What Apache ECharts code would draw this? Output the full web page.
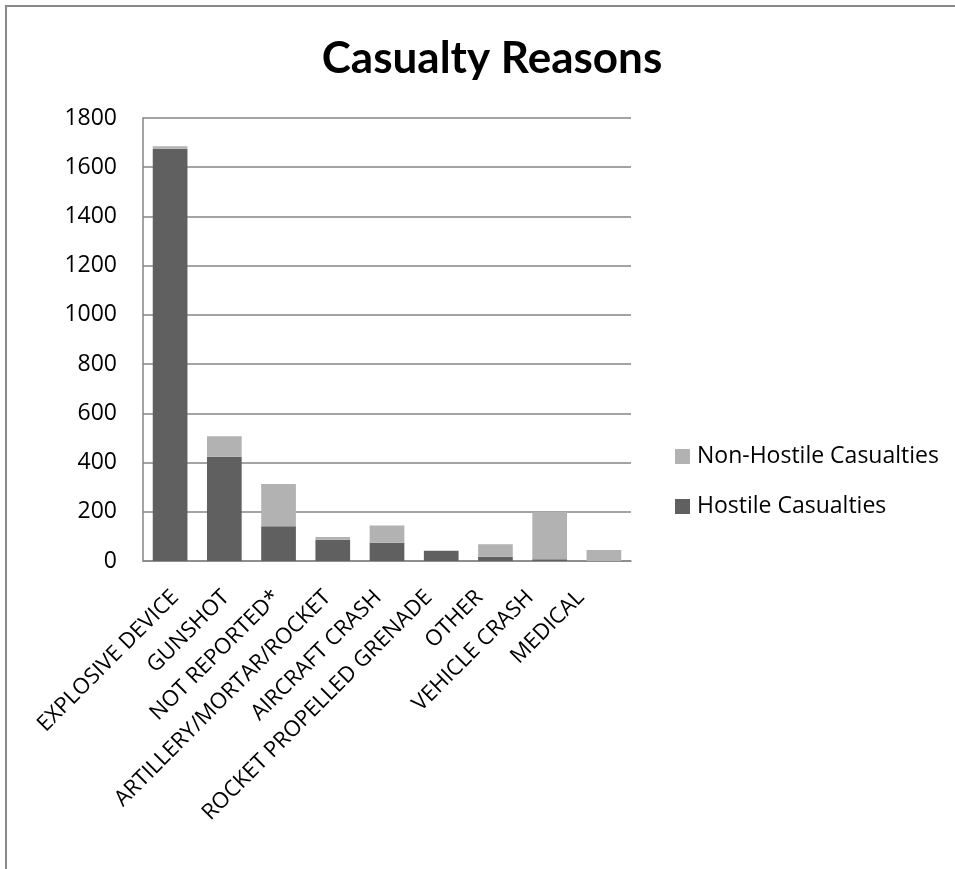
<!DOCTYPE html>
<html>
<head>
<meta charset="utf-8">
<style>html,body{margin:0;padding:0;background:#fff;}#c{width:955px;height:869px;}</style>
<script src="https://cdn.jsdelivr.net/npm/echarts@6/dist/echarts.min.js"></script>
</head>
<body>
<div id="c"></div>
<script>
const categories = ["EXPLOSIVE DEVICE","GUNSHOT","NOT REPORTED*","ARTILLERY/MORTAR/ROCKET","AIRCRAFT CRASH","ROCKET PROPELLED GRENADE","OTHER","VEHICLE CRASH","MEDICAL"];
const hostile = [1675, 424, 141, 86, 74, 42, 17, 7, 0];
const nonHostile = [10, 83, 172, 12, 70, 0, 51, 192, 45];
const yTicks = [0, 200, 400, 600, 800, 1000, 1200, 1400, 1600, 1800];

const FONT = "'Open Sans', sans-serif";
const chart = echarts.init(document.getElementById('c'), null, {renderer: 'canvas'});
chart.setOption({
  animation: false,
  backgroundColor: '#fff',
  graphic: [{
    type: 'rect', shape: {x: 6, y: 6, width: 1100, height: 1000},
    style: {fill: 'none', stroke: '#898989', lineWidth: 2}, silent: true
  }],
  title: {
    text: 'Casualty Reasons', left: 487, top: 32, textAlign: 'center',
    textStyle: {fontFamily: "Lato, sans-serif", fontWeight: 'bold', fontSize: 44, color: '#000'}
  },
  legend: {
    orient: 'vertical', left: 675, top: 445, itemWidth: 15, itemHeight: 15, itemGap: 27, padding: 0,
    data: ['Non-Hostile Casualties', 'Hostile Casualties'],
    icon: 'rect',
    textStyle: {fontFamily: FONT, fontSize: 23, color: '#000', padding: [0,0,0,2]}
  },
  grid: [
    {left: 143, right: 324, top: 118, bottom: 308, containLabel: false},
    {left: 150, right: 349, top: 118, bottom: 308, containLabel: false}
  ],
  xAxis: [{
    type: 'category', data: categories, gridIndex: 0,
    axisLine: {show: true, lineStyle: {color: '#868686', width: 1.5}},
    axisTick: {show: false},
    axisLabel: {show: false}
  }, {
    type: 'category', data: categories, gridIndex: 1,
    axisLine: {show: false}, axisTick: {show: false}, splitLine: {show: false},
    axisLabel: {interval: 0, rotate: 45, margin: 33, fontFamily: FONT, fontSize: 22, color: '#000'}
  }],
  yAxis: [{
    type: 'value', gridIndex: 0, min: yTicks[0], max: yTicks[yTicks.length - 1], interval: yTicks[1] - yTicks[0],
    axisLine: {show: true, lineStyle: {color: '#868686', width: 1.5}},
    axisTick: {show: false},
    axisLabel: {margin: 26, fontFamily: FONT, fontSize: 23, color: '#000', formatter: v => String(v)},
    splitLine: {show: true, lineStyle: {color: '#868686', width: 1.5}}
  }, {
    type: 'value', gridIndex: 1, min: 0, max: 1, show: false
  }],
  series: [
    {name: 'Hostile Casualties', type: 'bar', stack: 'all', data: hostile, barWidth: '64%',
     xAxisIndex: 0, yAxisIndex: 0, itemStyle: {color: '#606060'}},
    {name: 'Non-Hostile Casualties', type: 'bar', stack: 'all', data: nonHostile, barWidth: '64%',
     xAxisIndex: 0, yAxisIndex: 0, itemStyle: {color: '#b2b2b2'}}
  ]
});
</script>
</body>
</html>
